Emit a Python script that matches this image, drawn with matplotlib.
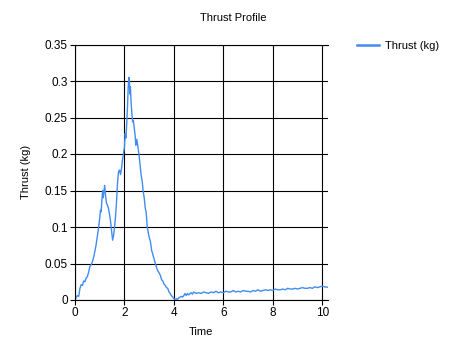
import matplotlib
matplotlib.use('Agg')
import matplotlib.pyplot as plt

# Thrust curve
time_s = [0.00, 0.05, 0.10, 0.15, 0.20, 0.25, 0.30, 0.35, 0.40, 0.45,
          0.50, 0.55, 0.60, 0.65, 0.70, 0.75, 0.80, 0.85, 0.90, 0.95,
          1.00, 1.03, 1.06, 1.09, 1.12, 1.14, 1.17, 1.20, 1.23, 1.27,
          1.31, 1.35, 1.40, 1.44, 1.48, 1.52, 1.56, 1.60, 1.64, 1.68,
          1.72, 1.76, 1.80, 1.84, 1.88, 1.92, 1.96, 2.00, 2.03, 2.06,
          2.09, 2.12, 2.15, 2.18, 2.20, 2.22, 2.24, 2.27, 2.30, 2.33,
          2.36, 2.40, 2.43, 2.46, 2.49, 2.52, 2.56, 2.60, 2.64, 2.68,
          2.72, 2.76, 2.80, 2.84, 2.88, 2.92, 2.96, 3.00, 3.05, 3.10,
          3.15, 3.20, 3.25, 3.30, 3.35, 3.40, 3.45, 3.50, 3.55, 3.60,
          3.65, 3.70, 3.75, 3.80, 3.85, 3.90, 3.95, 4.00, 4.05, 4.10,
          4.15, 4.20, 4.30, 4.35, 4.40, 4.45, 4.50, 4.55, 4.60, 4.70,
          4.75, 4.80, 4.90, 5.00, 5.10, 5.20, 5.30, 5.40, 5.50, 5.60,
          5.70, 5.80, 5.90, 6.00, 6.10, 6.20, 6.30, 6.40, 6.50, 6.60,
          6.70, 6.80, 6.90, 7.00, 7.10, 7.20, 7.30, 7.40, 7.50, 7.60,
          7.70, 7.80, 7.90, 8.00, 8.10, 8.20, 8.30, 8.40, 8.50, 8.60,
          8.70, 8.80, 8.90, 9.00, 9.10, 9.20, 9.30, 9.40, 9.50, 9.60,
          9.70, 9.80, 9.90, 10.00, 10.10, 10.22]
thrust_kg = [0.000, 0.004, 0.006, 0.005, 0.016, 0.021, 0.020, 0.026, 0.025, 0.030,
             0.032, 0.038, 0.046, 0.048, 0.052, 0.058, 0.066, 0.075, 0.086, 0.098,
             0.112, 0.123, 0.121, 0.138, 0.150, 0.140, 0.148, 0.157, 0.145, 0.133,
             0.130, 0.126, 0.117, 0.107, 0.094, 0.082, 0.088, 0.100, 0.115, 0.135,
             0.160, 0.176, 0.178, 0.172, 0.180, 0.192, 0.200, 0.210, 0.228, 0.222,
             0.240, 0.262, 0.290, 0.305, 0.300, 0.282, 0.292, 0.270, 0.255, 0.244,
             0.246, 0.234, 0.226, 0.212, 0.220, 0.216, 0.206, 0.196, 0.182, 0.170,
             0.162, 0.148, 0.140, 0.126, 0.120, 0.100, 0.093, 0.086, 0.080, 0.068,
             0.062, 0.056, 0.050, 0.044, 0.040, 0.037, 0.034, 0.028, 0.026, 0.022,
             0.020, 0.017, 0.016, 0.011, 0.009, 0.006, 0.004, 0.002, 0.000, 0.002,
             0.001, 0.003, 0.005, 0.004, 0.006, 0.009, 0.006, 0.009, 0.007, 0.010,
             0.008, 0.011, 0.009, 0.010, 0.009, 0.011, 0.010, 0.009, 0.011, 0.010,
             0.012, 0.010, 0.011, 0.010, 0.012, 0.011, 0.011, 0.013, 0.011, 0.012,
             0.011, 0.013, 0.012, 0.012, 0.011, 0.013, 0.012, 0.014, 0.012, 0.013,
             0.014, 0.013, 0.014, 0.013, 0.015, 0.014, 0.014, 0.015, 0.014, 0.016,
             0.015, 0.015, 0.016, 0.015, 0.016, 0.017, 0.016, 0.016, 0.017, 0.016,
             0.018, 0.017, 0.018, 0.019, 0.018, 0.0175]
x_ticks = [0, 2, 4, 6, 8, 10]
y_ticks = [0, 0.05, 0.1, 0.15, 0.2, 0.25, 0.3, 0.35]
y_labels = ['0', '0.05', '0.1', '0.15', '0.2', '0.25', '0.3', '0.35']

line_color = '#418CF0'
plt.rcParams['font.family'] = ['Liberation Sans', 'DejaVu Sans']
plt.rcParams['font.size'] = 8

fig = plt.figure(figsize=(4.67, 3.57), dpi=100)
ax = fig.add_axes([75 / 467, 57 / 357, 252.7 / 467, 255.5 / 357])

ax.plot(time_s, thrust_kg, color=line_color, linewidth=1.0, label='Thrust (kg)')

ax.set_xlim(0, 10.22)
ax.set_ylim(0, 0.35)
ax.set_xticks(x_ticks)
ax.set_yticks(y_ticks)
ax.set_yticklabels(y_labels)
ax.grid(True, color='black', linewidth=0.8)
ax.set_axisbelow(True)
ax.tick_params(direction='out', length=3.6, width=0.8, colors='black', labelsize=8.5, pad=1.5)
ax.spines['right'].set_visible(False)
for side in ['left', 'bottom', 'top']:
    ax.spines[side].set_color('black')
    ax.spines[side].set_linewidth(0.8)

ax.set_xlabel('Time', fontsize=8, labelpad=6)
ax.set_ylabel('Thrust (kg)', fontsize=8, labelpad=10)
fig.text(0.5, 1 - 18 / 357, 'Thrust Profile', ha='center', va='center', fontsize=8)

leg = fig.legend(loc='center left', bbox_to_anchor=(357 / 467, 1 - 46 / 357),
                 frameon=False, fontsize=8, handlelength=2.0, handletextpad=0.5,
                 borderaxespad=0, borderpad=0)
for h in leg.legend_handles:
    h.set_linewidth(1.8)

fig.savefig('out.png', dpi=100)
